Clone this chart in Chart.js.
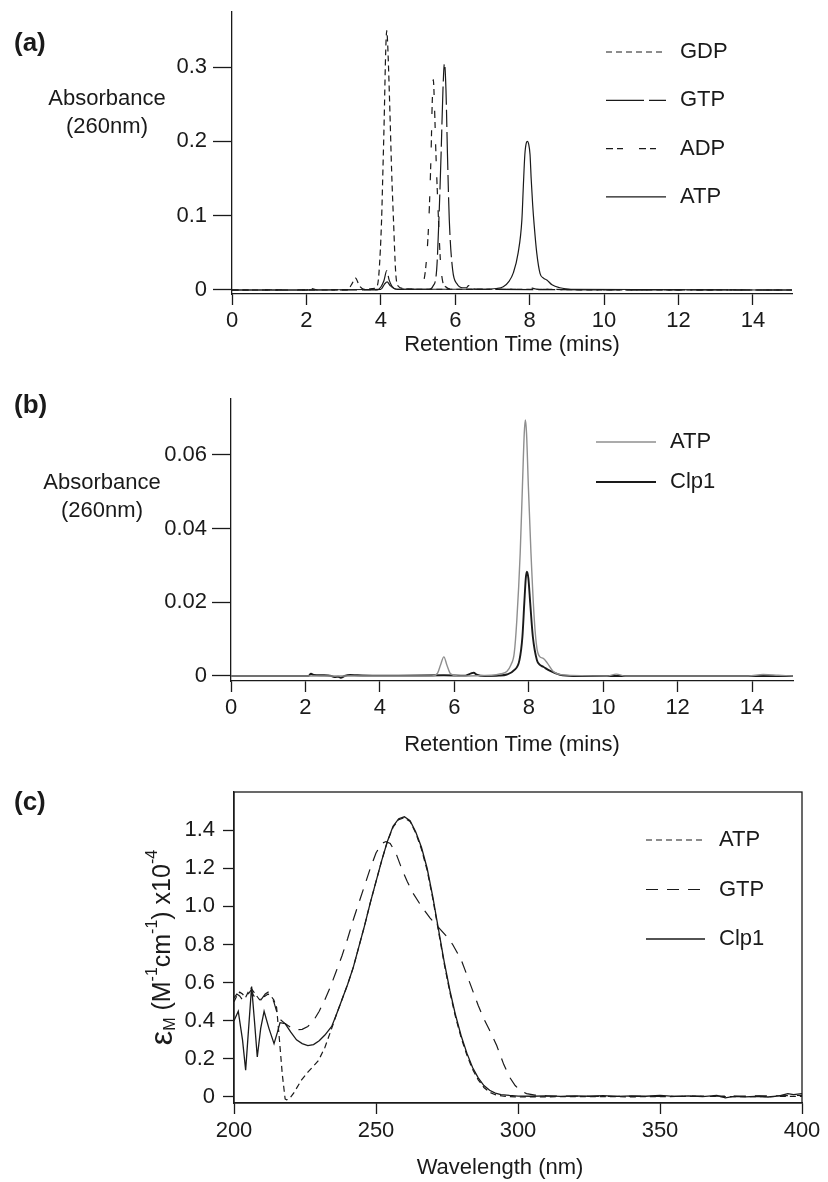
<!DOCTYPE html>
<html>
<head>
<meta charset="utf-8">
<script src="https://cdn.jsdelivr.net/npm/chart.js@4.4.1/dist/chart.umd.min.js"></script>
<style>
  body { margin: 0; background: #fff; }
  #wrap { position: relative; width: 828px; height: 1182px; }
  #wrap canvas { position: absolute; left: 0; top: 0; }
</style>
</head>
<body>
<div id="wrap">
  <canvas id="chartA" width="828" height="1182"></canvas>
  <canvas id="chartB" width="828" height="1182"></canvas>
  <canvas id="chartC" width="828" height="1182"></canvas>
</div>
<script>
const FONT = '"Liberation Sans", Arial, Helvetica, sans-serif';
const INK = '#1a1a1a';

// ---- (a) HPLC of nucleotide standards ----
const aTimeTicks = [0, 2, 4, 6, 8, 10, 12, 14];
const aAbsTicks = [0, 0.1, 0.2, 0.3];

const gdpTime = [0, 1.0, 2.0, 2.14, 2.3, 3.1, 3.22, 3.32, 3.42, 3.55, 3.8, 3.9, 3.95, 4.02, 4.05, 4.09, 4.12, 4.14, 4.16, 4.18, 4.21, 4.25, 4.29, 4.34, 4.4, 4.47, 4.6, 5.0, 6.0, 8.0, 10.0, 15.05];
const gdpAbs  = [0, 0, 0, 0.002, 0, 0, 0.008, 0.016, 0.006, 0.001, 0.002, 0.005, 0.023, 0.094, 0.15, 0.229, 0.30, 0.335, 0.349, 0.335, 0.295, 0.229, 0.16, 0.094, 0.023, 0.005, 0.002, 0.001, 0.001, 0.001, 0, 0];

const gtpTime = [0, 3.9, 4.0, 4.08, 4.16, 4.22, 4.3, 4.45, 5.3, 5.4, 5.5, 5.56, 5.62, 5.67, 5.71, 5.75, 5.79, 5.84, 5.93, 6.05, 6.2, 6.3, 6.36, 6.42, 6.6, 15.05];
const gtpAbs  = [0, 0, 0.004, 0.012, 0.026, 0.014, 0.005, 0.001, 0.001, 0.005, 0.027, 0.094, 0.184, 0.27, 0.305, 0.27, 0.184, 0.094, 0.027, 0.008, 0.003, 0.003, 0.006, 0.003, 0.001, 0];

const adpTime = [0, 4.9, 5.05, 5.2, 5.29, 5.35, 5.38, 5.41, 5.44, 5.48, 5.55, 5.6, 5.66, 5.75, 5.9, 7.7, 7.93, 8.2, 15.05];
const adpAbs  = [0, 0.001, 0.004, 0.027, 0.094, 0.184, 0.25, 0.283, 0.25, 0.184, 0.094, 0.04, 0.012, 0.004, 0.001, 0.001, 0.004, 0.001, 0];

const atpTime = [0, 4.0, 4.1, 4.17, 4.25, 4.4, 6.8, 7.1, 7.29, 7.45, 7.56, 7.69, 7.79, 7.83, 7.87, 7.91, 7.94, 7.97, 8.01, 8.04, 8.08, 8.12, 8.19, 8.28, 8.37, 8.46, 8.6, 8.81, 9.1, 15.05];
const atpAbs  = [0, 0.001, 0.008, 0.011, 0.006, 0.001, 0.001, 0.002, 0.0045, 0.012, 0.023, 0.05, 0.094, 0.14, 0.182, 0.198, 0.2, 0.197, 0.182, 0.15, 0.115, 0.088, 0.05, 0.022, 0.016, 0.0135, 0.007, 0.003, 0.001, 0];

// ---- (b) ATP vs Clp1 reaction ----
const bTimeTicks = [0, 2, 4, 6, 8, 10, 12, 14];
const bAbsTicks = [0, 0.02, 0.04, 0.06];

const bAtpTime = [0, 5.4, 5.55, 5.63, 5.72, 5.8, 5.9, 6.1, 7.0, 7.25, 7.41, 7.52, 7.61, 7.68, 7.77, 7.83, 7.88, 7.91, 7.94, 7.99, 8.06, 8.15, 8.22, 8.3, 8.39, 8.5, 8.66, 8.9, 10.1, 10.35, 10.6, 13.9, 14.3, 14.7, 15.1];
const bAtpAbs  = [0, 0, 0.0008, 0.003, 0.0052, 0.003, 0.0006, 0, 0.0002, 0.0006, 0.0012, 0.003, 0.0062, 0.0152, 0.0333, 0.0514, 0.066, 0.0695, 0.066, 0.0514, 0.0333, 0.0152, 0.0075, 0.0052, 0.0048, 0.0035, 0.0012, 0.0003, 0, 0.0005, 0, 0, 0.0004, 0.0002, 0];

const clpTime = [0, 2.08, 2.15, 2.22, 2.5, 2.7, 2.8, 2.88, 2.95, 3.05, 3.2, 3.4, 3.8, 4.5, 5.72, 6.3, 6.45, 6.52, 6.6, 6.8, 7.2, 7.41, 7.6, 7.75, 7.83, 7.88, 7.92, 7.95, 7.99, 8.04, 8.11, 8.22, 8.3, 8.39, 8.55, 8.84, 9.2, 15.1];
const clpAbs  = [0, 0, 0.0006, 0.0003, 0.0002, 0, -0.0003, -0.0002, -0.0005, 0, 0.0003, 0.0002, 0.0001, 0.0001, 0.0002, 0.0001, 0.0007, 0.0009, 0.0004, 0, 0.0001, 0.0004, 0.0015, 0.0043, 0.0107, 0.0197, 0.0265, 0.0283, 0.0265, 0.0197, 0.0107, 0.0043, 0.003, 0.0025, 0.0015, 0.0003, 0, 0];

// ---- (c) UV spectra ----
const cWaveTicks = [200, 250, 300, 350, 400];
const cEpsTicks = [0, 0.2, 0.4, 0.6, 0.8, 1.0, 1.2, 1.4];

const cAtpWave = [200, 201, 202, 203, 204, 205, 206, 207, 208, 209, 210, 211, 212, 213, 214, 215, 216, 217, 218, 218.5, 219.5, 221, 223.8, 226, 229.7, 232, 234.4, 236, 238, 240, 242, 244, 246, 248, 250, 252, 254, 256, 258, 260, 262, 264, 266, 268, 270, 272, 274, 276, 278, 280, 282, 284, 286, 288, 290, 292, 295, 300, 320, 340, 360, 380, 400];
const cAtpEps  = [0.50, 0.53, 0.55, 0.54, 0.52, 0.55, 0.57, 0.55, 0.53, 0.51, 0.52, 0.53, 0.54, 0.53, 0.51, 0.47, 0.30, 0.12, -0.01, -0.015, -0.01, 0.02, 0.09, 0.13, 0.19, 0.26, 0.36, 0.43, 0.51, 0.59, 0.68, 0.79, 0.90, 1.02, 1.13, 1.24, 1.34, 1.415, 1.455, 1.465, 1.445, 1.385, 1.30, 1.19, 1.04, 0.87, 0.70, 0.55, 0.42, 0.31, 0.22, 0.145, 0.09, 0.05, 0.025, 0.012, 0.004, 0, 0.002, 0.001, 0.003, 0.002, 0.003];

const cGtpWave = [200, 201, 202, 203, 204, 205, 206, 207, 208, 209, 210, 211, 212, 213, 214, 215, 216, 218, 220, 222, 224, 226, 228, 230, 232, 234, 236, 238, 240, 242, 244, 246, 248, 250, 252, 253.5, 255, 257, 259, 261, 263, 266, 269, 272, 275, 277, 280, 283, 286, 288, 290, 292.5, 295, 297, 299, 301, 303, 306, 310, 320, 340, 360, 380, 400];
const cGtpEps  = [0.52, 0.54, 0.53, 0.51, 0.53, 0.54, 0.56, 0.53, 0.51, 0.50, 0.52, 0.54, 0.55, 0.53, 0.50, 0.45, 0.41, 0.385, 0.365, 0.352, 0.355, 0.37, 0.40, 0.45, 0.51, 0.58, 0.66, 0.74, 0.83, 0.93, 1.02, 1.11, 1.20, 1.28, 1.33, 1.34, 1.33, 1.28, 1.20, 1.13, 1.07, 1.00, 0.94, 0.89, 0.84, 0.80, 0.72, 0.60, 0.48, 0.41, 0.35, 0.27, 0.17, 0.105, 0.06, 0.032, 0.018, 0.01, 0.006, 0.004, 0.003, 0.004, 0.005, 0.008];

const cClpWave = [200, 201.5, 203, 204.1, 205, 206.2, 207.2, 208.2, 209.4, 210.6, 212.3, 214.1, 215.3, 216.2, 218, 220, 222, 224, 226, 228, 230, 232, 234.4, 236, 238, 240, 242, 244, 246, 248, 250, 252, 254, 256, 258, 260, 262, 264, 266, 268, 270, 272, 274, 276, 278, 280, 282, 284, 286, 288, 290, 292, 294, 297, 300, 305, 310, 315, 320, 325, 330, 335, 340, 345, 350, 355, 360, 365, 370, 373, 376, 380, 385, 388, 392, 395, 397, 400];
const cClpEps  = [0.40, 0.45, 0.30, 0.14, 0.33, 0.58, 0.40, 0.21, 0.36, 0.45, 0.36, 0.28, 0.34, 0.39, 0.385, 0.34, 0.30, 0.28, 0.27, 0.275, 0.295, 0.325, 0.37, 0.43, 0.51, 0.59, 0.68, 0.79, 0.90, 1.02, 1.13, 1.24, 1.34, 1.42, 1.46, 1.47, 1.45, 1.39, 1.31, 1.20, 1.05, 0.88, 0.71, 0.56, 0.43, 0.32, 0.23, 0.155, 0.10, 0.06, 0.035, 0.02, 0.012, 0.008, 0.005, 0.004, 0.006, 0.003, 0.006, 0.004, 0.007, 0.003, 0.006, 0.004, 0.008, 0.003, 0.006, 0.002, 0.008, -0.005, 0.003, 0.001, 0.004, 0, 0.006, 0.018, 0.012, 0.018];

const pts = (xs, ys) => xs.map((x, i) => ({ x: x, y: ys[i] }));

function line(label, xs, ys, color, width, dash, smooth) {
    return {
        label: label,
        data: pts(xs, ys),
        borderColor: color,
        borderWidth: width,
        borderDash: dash,
        pointRadius: 0,
        fill: false,
        tension: 0,
        cubicInterpolationMode: smooth ? 'monotone' : 'default'
    };
}

// panel letter, horizontal y title, legend, frame
const decor = {
    id: 'decor',
    afterDraw(chart, args, o) {
        const ctx = chart.ctx;
        const area = chart.chartArea;
        ctx.save();
        ctx.fillStyle = INK;
        ctx.textBaseline = 'middle';

        ctx.font = 'bold 26px ' + FONT;
        ctx.textAlign = 'left';
        ctx.fillText(o.panel, 14, o.panelY);

        ctx.font = '22px ' + FONT;
        if (o.yLines) {
            ctx.textAlign = 'center';
            o.yLines.forEach((t, i) => ctx.fillText(t, o.yLinesX, o.yLinesY + i * 28));
        }

        if (o.xTitle) {
            ctx.textAlign = 'center';
            ctx.fillText(o.xTitle, o.xTitleX, o.xTitleY);
        }

        // rotated title with sub/superscripts: [text, size, baseline shift]
        if (o.rotTitle) {
            ctx.save();
            ctx.translate(o.rotX, (area.top + area.bottom) / 2);
            ctx.rotate(-Math.PI / 2);
            ctx.textAlign = 'left';
            let total = 0;
            o.rotTitle.forEach(s => { ctx.font = s[1] + 'px ' + FONT; total += ctx.measureText(s[0]).width; });
            let u = -total / 2;
            o.rotTitle.forEach(s => {
                ctx.font = s[1] + 'px ' + FONT;
                ctx.fillText(s[0], u, s[2]);
                u += ctx.measureText(s[0]).width;
            });
            ctx.restore();
        }

        o.legend.items.forEach((idx, i) => {
            const ds = chart.data.datasets[idx];
            const y = o.legend.y + i * o.legend.gap;
            ctx.strokeStyle = ds.borderColor;
            ctx.lineWidth = ds.borderWidth;
            ctx.setLineDash(ds.borderDash || []);
            ctx.beginPath();
            ctx.moveTo(o.legend.x0, y);
            ctx.lineTo(o.legend.x1, y);
            ctx.stroke();
            ctx.setLineDash([]);
            ctx.font = '22px ' + FONT;
            ctx.textAlign = 'left';
            ctx.fillText(ds.label, o.legend.tx, y);
        });

        if (o.frame) {
            ctx.strokeStyle = INK;
            ctx.lineWidth = 1.3;
            ctx.strokeRect(area.left, area.top, area.right - area.left, area.bottom - area.top);
        }
        ctx.restore();
    }
};

function axes(o) {
    return {
        x: {
            type: 'linear',
            min: o.xMin,
            max: o.xMax,
            afterBuildTicks: s => { s.ticks = o.xTicks.map(v => ({ value: v })); },
            afterFit: s => { s.height = o.xH; s.paddingLeft = 0; s.paddingRight = 0; },
            grid: { display: true, drawOnChartArea: false, drawTicks: true, tickLength: o.xTl, tickWidth: 1.3, tickColor: INK },
            border: { display: true, color: INK, width: 1.3 },
            ticks: { padding: o.xPad, color: INK, maxRotation: 0, autoSkip: false, callback: v => String(v) },
            title: o.xTitle ? { display: true, text: o.xTitle, color: INK, padding: { top: 0, bottom: o.xTitlePad } } : { display: false }
        },
        y: {
            type: 'linear',
            min: o.yMin,
            max: o.yMax,
            afterBuildTicks: s => { s.ticks = o.yTicks.map(v => ({ value: v })); },
            afterFit: s => { s.width = o.yW; s.paddingTop = 0; s.paddingBottom = 0; },
            grid: { display: true, drawOnChartArea: false, drawTicks: true, tickLength: o.yTl, tickWidth: 1.3, tickColor: INK },
            border: { display: true, color: INK, width: 1.3 },
            ticks: { padding: o.yPad, color: INK, autoSkip: false, callback: o.yFmt }
        }
    };
}

Chart.defaults.font.family = FONT;
Chart.defaults.font.size = 22;
Chart.defaults.color = INK;

const common = {
    responsive: false,
    animation: false,
    events: []
};

new Chart(document.getElementById('chartA'), {
    type: 'line',
    data: {
        datasets: [
            line('GDP', gdpTime, gdpAbs, INK, 1.2, [6, 4], true),
            line('GTP', gtpTime, gtpAbs, INK, 1.2, [38, 5, 17, 5], true),
            line('ADP', adpTime, adpAbs, INK, 1.2, [7, 4, 6, 16], true),
            line('ATP', atpTime, atpAbs, INK, 1.2, [], true)
        ]
    },
    options: Object.assign({}, common, {
        layout: { padding: { left: 0, top: 12, right: 36, bottom: 822 } },
        scales: axes({
            xMin: 0, xMax: 15.05, xTicks: aTimeTicks, xH: 66, xTl: 11, xPad: 3,
            xTitle: 'Retention Time (mins)', xTitlePad: 2,
            yMin: -0.0054, yMax: 0.374, yTicks: aAbsTicks, yW: 232, yTl: 19, yPad: 6,
            yFmt: v => String(v)
        }),
        plugins: {
            legend: { display: false },
            tooltip: { enabled: false },
            decor: {
                panel: '(a)', panelY: 44,
                yLines: ['Absorbance', '(260nm)'], yLinesX: 107, yLinesY: 99,
                legend: { items: [0, 1, 2, 3], x0: 606, x1: 666, tx: 680, y: 52, gap: 48.3 }
            }
        }
    }),
    plugins: [decor]
});

new Chart(document.getElementById('chartB'), {
    type: 'line',
    data: {
        datasets: [
            line('ATP', bAtpTime, bAtpAbs, '#8f8f8f', 1.4, [], true),
            line('Clp1', clpTime, clpAbs, INK, 1.9, [], true)
        ]
    },
    options: Object.assign({}, common, {
        layout: { padding: { left: 0, top: 399, right: 35, bottom: 421 } },
        scales: axes({
            xMin: 0, xMax: 15.1, xTicks: bTimeTicks, xH: 80, xTl: 11, xPad: 3,
            xTitle: 'Retention Time (mins)', xTitlePad: 3,
            yMin: -0.00136, yMax: 0.0752, yTicks: bAbsTicks, yW: 231, yTl: 19, yPad: 5,
            yFmt: v => String(v)
        }),
        plugins: {
            legend: { display: false },
            tooltip: { enabled: false },
            decor: {
                panel: '(b)', panelY: 406,
                yLines: ['Absorbance', '(260nm)'], yLinesX: 102, yLinesY: 483,
                legend: { items: [0, 1], x0: 596, x1: 656, tx: 670, y: 442, gap: 40 }
            }
        }
    }),
    plugins: [decor]
});

new Chart(document.getElementById('chartC'), {
    type: 'line',
    data: {
        datasets: [
            line('ATP', cAtpWave, cAtpEps, INK, 1.2, [6, 4], false),
            line('GTP', cGtpWave, cGtpEps, INK, 1.2, [12, 9], false),
            line('Clp1', cClpWave, cClpEps, INK, 1.3, [], false)
        ]
    },
    options: Object.assign({}, common, {
        layout: { padding: { left: 0, top: 792, right: 26, bottom: 0 } },
        scales: axes({
            xMin: 200, xMax: 400, xTicks: cWaveTicks, xH: 79, xTl: 11, xPad: 4,
            yMin: -0.0315, yMax: 1.6, yTicks: cEpsTicks, yW: 234, yTl: 11, yPad: 8,
            yFmt: v => (v === 0 ? '0' : v.toFixed(1))
        }),
        plugins: {
            legend: { display: false },
            tooltip: { enabled: false },
            decor: {
                panel: '(c)', panelY: 803,
                xTitle: 'Wavelength (nm)', xTitleX: 500, xTitleY: 1168,
                rotX: 163,
                rotTitle: [['\u03b5', 32, 0], ['M', 16, 8], [' (M', 25, 0], ['-1', 16, -10], ['cm', 25, 0], ['-1', 16, -10], [') x10', 25, 0], ['-4', 16, -10]],
                legend: { items: [0, 1, 2], x0: 646, x1: 705, tx: 719, y: 840, gap: 49.5 },
                frame: true
            }
        }
    }),
    plugins: [decor]
});
</script>
</body>
</html>
